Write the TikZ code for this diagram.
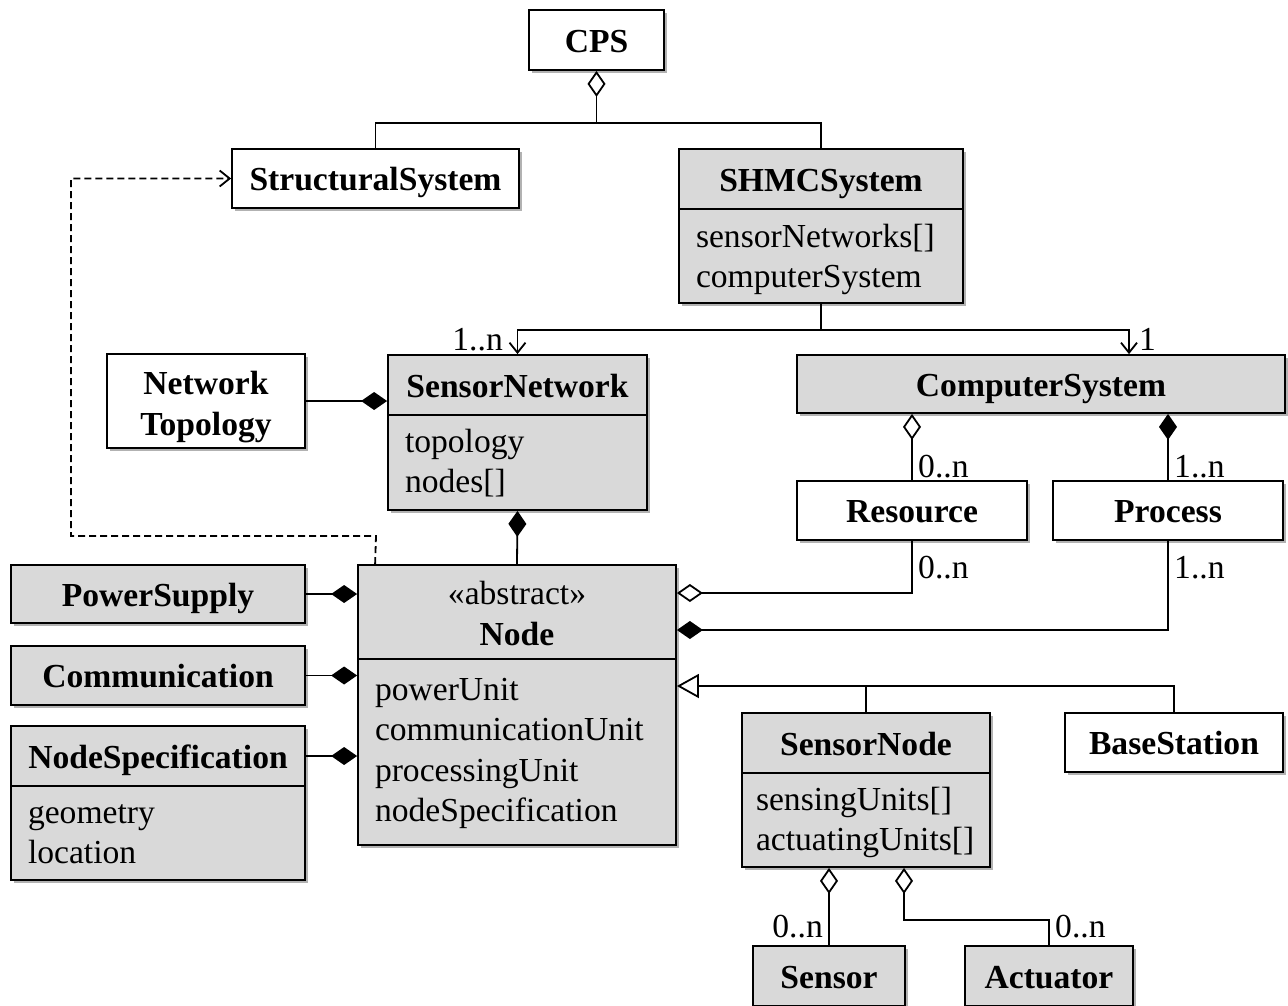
\documentclass[tikz,border=0pt]{standalone}
\usepackage{fontspec}
\setmainfont{Liberation Serif}
\usetikzlibrary{arrows.meta,shadows}
\definecolor{cgray}{HTML}{D9D9D9}
\begin{document}
\begin{tikzpicture}[x=1pt,y=-1pt,
  every node/.style={font=\fontsize{33.6}{40.5}\selectfont},
  box/.style={draw, line width=1.8pt, inner sep=0pt,
    drop shadow={shadow xshift=3pt,shadow yshift=-3pt,fill=black,opacity=0.3}},
  one/.style={text height=24pt, text depth=0pt},
  wbox/.style={box, fill=white, font=\fontsize{33.6}{40.5}\selectfont\bfseries},
  gbox/.style={box, fill=cgray, font=\fontsize{33.6}{40.5}\selectfont\bfseries},
  abox/.style={box, fill=cgray, align=left, inner xsep=17pt},
  lbl/.style={inner sep=0pt},
  con/.style={line width=1.8pt},
  agg/.style={con, {Diamond[open,length=26pt,width=18pt]}-},
  comp/.style={con, {Diamond[length=26pt,width=18pt]}-},
  nav/.style={con, -{Straight Barb[length=10pt,width=16pt]}},
  dep/.style={con, dash pattern=on 7pt off 4pt, -{Straight Barb[length=10pt,width=16pt]}},
  gen/.style={con, {Triangle[open,length=22pt,width=24pt]}-}
]
\fill[white] (0,0) rectangle (1288,1005);
\useasboundingbox (0,0) rectangle (1288,1005);

% classes
\node[wbox, one, minimum width=135pt, minimum height=60pt] (cps) at (596.5,40) {CPS};
\node[wbox, one, minimum width=287pt, minimum height=59pt] (str) at (375.5,178.5) {StructuralSystem};
\node[gbox, one, minimum width=284pt, minimum height=60pt] (shmH) at (821,179) {SHMCSystem};
\node[abox, text width=250pt, text height=38pt, text depth=56pt, minimum height=94pt] (shmA) at (821,256) {sensorNetworks[]\\computerSystem};

\node[wbox, align=center, text height=81pt, text depth=13pt, minimum width=198pt, minimum height=94pt] (nt) at (206,401) {Network\\Topology};
\node[gbox, one, minimum width=259pt, minimum height=60pt] (snH) at (517.5,385) {SensorNetwork};
\node[abox, text width=225pt, text height=37pt, text depth=58pt, minimum height=95pt] (snA) at (517.5,462.5) {topology\\nodes[]};

\node[gbox, one, minimum width=488pt, minimum height=58pt] (cs) at (1041,384) {ComputerSystem};
\node[wbox, one, minimum width=230pt, minimum height=59pt] (res) at (912,510.5) {Resource};
\node[wbox, one, minimum width=230pt, minimum height=59pt] (proc) at (1168,510.5) {Process};

\node[gbox, align=center, text height=80pt, text depth=14pt, minimum width=318pt, minimum height=94pt] (nodeH) at (517,612) {{\mdseries «abstract»}\\Node};
\node[abox, text width=284pt, text height=41pt, text depth=145pt, minimum height=186pt] (nodeA) at (517,752) {powerUnit\\communicationUnit\\processingUnit\\nodeSpecification};

\node[gbox, one, minimum width=294pt, minimum height=58pt] (ps) at (158,594) {PowerSupply};
\node[gbox, one, minimum width=294pt, minimum height=59pt] (com) at (158,675.5) {Communication};
\node[gbox, one, minimum width=294pt, minimum height=60pt] (nsH) at (158,756) {NodeSpecification};
\node[abox, text width=260pt, text height=37pt, text depth=57pt, minimum height=94pt] (nsA) at (158,833) {geometry\\location};

\node[gbox, one, minimum width=248pt, minimum height=60pt] (snoH) at (866,743) {SensorNode};
\node[abox, inner xsep=14pt, text width=220pt, text height=37pt, text depth=57pt, minimum height=94pt] (snoA) at (866,820) {sensingUnits[]\\actuatingUnits[]};
\node[wbox, one, minimum width=218pt, minimum height=59pt] (bs) at (1174,742.5) {BaseStation};

\node[gbox, one, minimum width=152pt, minimum height=60pt] (sensor) at (829,976) {Sensor};
\node[gbox, one, minimum width=168pt, minimum height=60pt] (act) at (1049,976) {Actuator};

% connectors
\coordinate (j1) at (596.5,123);
\draw[agg] (cps.south) -- (j1) -| (str.north);
\draw[con] (j1) -| (shmH.north);

\coordinate (j2) at (821,330);
\draw[con] (shmA.south) -- (j2);
\draw[nav] (j2) -| (snH.north);
\draw[nav] (j2) -| ([xshift=88pt]cs.north);
\node[lbl, anchor=base east] (m1) at (503,350) {1..n};
\node[lbl, anchor=base west] (m2) at (1139,350) {1};

\draw[comp] (nt.east -| snH.west) -- (nt.east);
\draw[comp] (snA.south) -- (nodeH.north);

\draw[agg] (res.north |- cs.south) -- (res.north);
\draw[comp] (proc.north |- cs.south) -- (proc.north);
\node[lbl, anchor=base west] (m3) at (918,477) {0..n};
\node[lbl, anchor=base west] (m4) at (1174,477) {1..n};

\draw[agg] ([yshift=19pt]nodeH.east) -| (res.south);
\draw[comp] ([yshift=-18pt]nodeH.east) -| (proc.south);
\node[lbl, anchor=base west] (m5) at (918,578) {0..n};
\node[lbl, anchor=base west] (m6) at (1174,578) {1..n};

\coordinate (d1) at (376,536);
\coordinate (d2) at (71,536);
\draw[dep] ([xshift=18pt]nodeH.north west) -- (d1) -- (d2) |- (str.west);

\draw[comp] (nodeH.west |- ps.east) -- (ps.east);
\draw[comp] (nodeA.west |- com.east) -- (com.east);
\draw[comp] (nodeA.west |- nsH.east) -- (nsH.east);

\coordinate (g) at (866,686);
\draw[gen] (nodeA.east |- g) -| (bs.north);
\draw[con] (g) -- (snoH.north);

\draw[agg] (sensor.north |- snoA.south) -- (sensor.north);
\coordinate (j5) at (1049,920);
\draw[agg] ([xshift=38pt]snoA.south) |- (j5) -- (act.north);
\node[lbl, anchor=base east] (m7) at (823,937) {0..n};
\node[lbl, anchor=base west] (m8) at (1055,937) {0..n};
\end{tikzpicture}
\end{document}
